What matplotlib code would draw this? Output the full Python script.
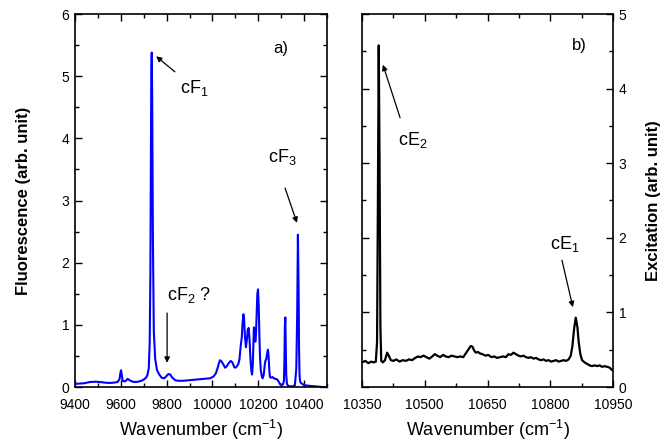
import matplotlib
matplotlib.use("Agg")
import matplotlib.pyplot as plt
from matplotlib.ticker import MultipleLocator

plt.rcParams['font.family'] = ['Liberation Sans', 'DejaVu Sans']
plt.rcParams['mathtext.default'] = 'regular'

# Panel a: fluorescence spectrum
fl_x = [9400, 9420, 9440, 9465, 9490, 9510, 9530, 9550, 9570, 9585, 9594, 9598, 9601, 9604, 9608, 9615,
        9622, 9630, 9638, 9648, 9660, 9675, 9690, 9700, 9710, 9716, 9722, 9726, 9729, 9731, 9733, 9735,
        9737, 9740, 9744, 9750, 9758, 9768, 9778, 9790, 9800, 9808, 9816, 9825, 9837, 9850, 9873, 9900,
        9930, 9960, 9990, 10005, 10015, 10022, 10028, 10033, 10040, 10048, 10055, 10062, 10070, 10080, 10088,
        10095, 10100, 10106, 10113, 10118, 10123, 10128, 10131, 10135, 10138, 10142, 10146, 10150, 10154,
        10158, 10162, 10166, 10170, 10173, 10176, 10179, 10181, 10184, 10187, 10190, 10193, 10196, 10199,
        10202, 10205, 10208, 10211, 10215, 10219, 10224, 10228, 10231, 10235, 10239, 10242, 10245, 10248,
        10251, 10256, 10262, 10268, 10275, 10283, 10290, 10296, 10302, 10308, 10312, 10314, 10316, 10318,
        10320, 10322, 10325, 10330, 10340, 10350, 10360, 10366, 10370, 10373, 10376, 10378, 10380, 10382,
        10385, 10388, 10392, 10400, 10420, 10450, 10480, 10500]
fl_y = [0.05, 0.055, 0.06, 0.08, 0.085, 0.08, 0.07, 0.065, 0.07, 0.08, 0.12, 0.22, 0.27, 0.2, 0.1, 0.09,
        0.1, 0.13, 0.11, 0.09, 0.08, 0.085, 0.1, 0.12, 0.15, 0.19, 0.3, 0.7, 1.8, 3.6, 5.0, 5.38,
        4.6, 2.4, 0.9, 0.45, 0.27, 0.2, 0.15, 0.14, 0.18, 0.21, 0.2, 0.15, 0.11, 0.1, 0.1, 0.11,
        0.12, 0.13, 0.14, 0.17, 0.22, 0.3, 0.38, 0.43, 0.41, 0.36, 0.31, 0.33, 0.38, 0.42, 0.39,
        0.32, 0.31, 0.33, 0.37, 0.45, 0.65, 0.8, 1.0, 1.17, 1.1, 0.8, 0.64, 0.75, 0.92,
        0.95, 0.75, 0.45, 0.25, 0.2, 0.35, 0.75, 0.96, 0.9, 0.73, 0.85, 1.2, 1.5, 1.57,
        1.3, 0.8, 0.45, 0.27, 0.18, 0.14, 0.2, 0.35, 0.42, 0.45, 0.55, 0.6, 0.5, 0.28,
        0.16, 0.15, 0.16, 0.14, 0.13, 0.12, 0.08, 0.04, 0.03, 0.04, 0.1, 0.4, 0.95, 1.12,
        0.7, 0.2, 0.05, 0.02, 0.01, 0.01, 0.03, 0.3, 1.2, 2.45, 1.6, 0.6, 0.2, 0.1,
        0.07, 0.06, 0.05, 0.03, 0.02, 0.01, 0.0, 0.0]

# Panel b: excitation spectrum
ex_x = [10350, 10358, 10365, 10372, 10378, 10383, 10386, 10388, 10390, 10392, 10394, 10396, 10400, 10405,
        10410, 10414, 10419, 10425, 10432, 10440, 10447, 10455, 10462, 10470, 10477, 10484, 10490, 10497,
        10504, 10511, 10518, 10524, 10530, 10537, 10544, 10550, 10557, 10564, 10571, 10578, 10585, 10592,
        10598, 10604, 10610, 10614, 10618, 10622, 10627, 10632, 10638, 10645, 10652, 10659, 10666, 10673,
        10680, 10687, 10694, 10700, 10706, 10712, 10718, 10724, 10730, 10736, 10742, 10748, 10754, 10760,
        10766, 10772, 10778, 10784, 10790, 10796, 10802, 10808, 10814, 10820, 10826, 10832, 10838, 10844,
        10849, 10853, 10857, 10861, 10865, 10868, 10872, 10876, 10882, 10888, 10894, 10900, 10906, 10912,
        10918, 10924, 10930, 10936, 10942, 10947, 10950]
ex_y = [0.33, 0.35, 0.32, 0.34, 0.33, 0.34, 0.6, 2.5, 4.58, 3.0, 0.8, 0.35, 0.33, 0.36,
        0.46, 0.42, 0.36, 0.35, 0.37, 0.34, 0.36, 0.35, 0.37, 0.36, 0.39, 0.41, 0.40, 0.42,
        0.40, 0.38, 0.41, 0.44, 0.42, 0.40, 0.43, 0.41, 0.40, 0.42, 0.41, 0.40, 0.41, 0.40,
        0.45, 0.50, 0.55, 0.54, 0.49, 0.46, 0.47, 0.45, 0.44, 0.42, 0.43, 0.40, 0.41, 0.39,
        0.40, 0.41, 0.40, 0.44, 0.43, 0.46, 0.44, 0.42, 0.41, 0.42, 0.40, 0.39, 0.40, 0.38,
        0.39, 0.37, 0.36, 0.37, 0.35, 0.36, 0.34, 0.35, 0.36, 0.34, 0.35, 0.36, 0.35, 0.37,
        0.42, 0.55, 0.78, 0.93, 0.80, 0.60, 0.44, 0.36, 0.33, 0.31, 0.29, 0.28, 0.29, 0.28,
        0.29, 0.27, 0.28, 0.27, 0.26, 0.23, 0.22]

fig = plt.figure(figsize=(6.65, 4.44), dpi=100)
axa = fig.add_axes([75/665, 57/444, 252/665, 373/444])
axb = fig.add_axes([362/665, 57/444, 251/665, 373/444])

axa.plot(fl_x, fl_y, color='#0000ff', lw=1.5)
axb.plot(ex_x, ex_y, color='black', lw=1.6)

for ax in (axa, axb):
    for s in ax.spines.values():
        s.set_linewidth(1.2)
    ax.tick_params(which='both', direction='in', top=True, right=True, left=True, bottom=True,
                   labelsize=10, width=1.0, pad=4)
    ax.tick_params(axis='x', which='both', pad=8)
    ax.tick_params(which='major', length=5)
    ax.tick_params(which='minor', length=3)
    ax.set_xlabel('Wavenumber (cm$^{-1}$)', fontsize=13, labelpad=4)

axa.set_xlim(9400, 10500)
axa.set_ylim(0, 6)
axa.xaxis.set_major_locator(MultipleLocator(200))
axa.xaxis.set_minor_locator(MultipleLocator(100))
axa.yaxis.set_major_locator(MultipleLocator(1))
axa.yaxis.set_minor_locator(MultipleLocator(0.5))
axa.set_ylabel('Fluorescence (arb. unit)', fontsize=12, fontweight='bold', labelpad=22)

axb.set_xlim(10350, 10950)
axb.set_ylim(0, 5)
axb.xaxis.set_major_locator(MultipleLocator(150))
axb.xaxis.set_minor_locator(MultipleLocator(75))
axb.yaxis.set_major_locator(MultipleLocator(1))
axb.yaxis.set_minor_locator(MultipleLocator(0.5))
axb.tick_params(which='both', labelleft=False, labelright=True)
axb.yaxis.set_label_position('right')
axb.set_ylabel('Excitation (arb. unit)', fontsize=12, fontweight='bold', labelpad=14)

arrow = dict(arrowstyle='-|>', color='black', lw=0.9, mutation_scale=8, shrinkA=0, shrinkB=0)
tfs = 13

# panel a labels
axa.text(10299, 5.44, 'a)', fontsize=12, ha='center', va='center')
axa.annotate('', xy=(9754, 5.32), xytext=(9836, 5.07), arrowprops=arrow)
axa.text(9919, 4.81, 'cF$_1$', fontsize=tfs, ha='center', va='center')
axa.text(9802, 1.48, 'cF$_2$ ?', fontsize=tfs, ha='left', va='center')
axa.annotate('', xy=(9802, 0.39), xytext=(9802, 1.19), arrowprops=arrow)
axa.text(10304, 3.70, 'cF$_3$', fontsize=tfs, ha='center', va='center')
axa.annotate('', xy=(10369, 2.64), xytext=(10317, 3.20), arrowprops=arrow)

# panel b labels
axb.text(10869, 4.58, 'b)', fontsize=12, ha='center', va='center')
axb.annotate('', xy=(10400, 4.32), xytext=(10441, 3.61), arrowprops=arrow)
axb.text(10472, 3.31, 'cE$_2$', fontsize=tfs, ha='center', va='center')
axb.annotate('', xy=(10854, 1.07), xytext=(10828, 1.70), arrowprops=arrow)
axb.text(10835, 1.92, 'cE$_1$', fontsize=tfs, ha='center', va='center')

fig.savefig('out.png', dpi=100)
